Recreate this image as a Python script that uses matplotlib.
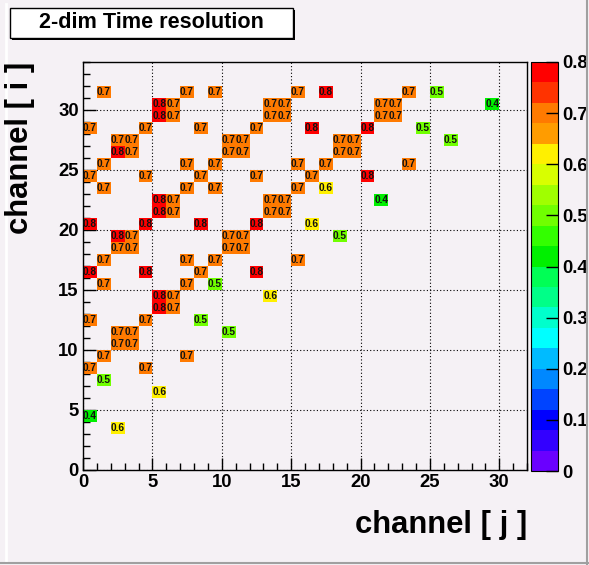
import numpy as np
import matplotlib
matplotlib.use("Agg")
import matplotlib.pyplot as plt
from matplotlib.colors import ListedColormap, BoundaryNorm
from matplotlib.patches import Rectangle
from matplotlib.lines import Line2D
from matplotlib.ticker import MultipleLocator, FuncFormatter

# Filled channel pairs: column j, row i and the time resolution of each pair
chan_j = [1, 7, 9, 15, 17, 23, 25,
          5, 6, 13, 14, 21, 22, 29,
          5, 6, 13, 14, 21, 22,
          0, 4, 8, 12, 16, 20, 24,
          2, 3, 10, 11, 18, 19, 26,
          2, 3, 10, 11, 18, 19,
          1, 7, 9, 15, 17, 23,
          0, 4, 8, 12, 16, 20,
          1, 7, 9, 15, 17,
          5, 6, 13, 14, 21,
          5, 6, 13, 14,
          0, 4, 8, 12, 16,
          2, 3, 10, 11, 18,
          2, 3, 10, 11,
          1, 7, 9, 15,
          0, 4, 8, 12,
          1, 7, 9,
          5, 6, 13,
          5, 6,
          0, 4, 8,
          2, 3, 10,
          2, 3,
          1, 7,
          0, 4,
          1,
          5,
          0,
          2]
chan_i = [31] * 7 + [30] * 7 + [29] * 6 + [28] * 7 + [27] * 7 + [26] * 6 + \
         [25] * 6 + [24] * 6 + [23] * 5 + [22] * 5 + [21] * 4 + [20] * 5 + \
         [19] * 5 + [18] * 4 + [17] * 4 + [16] * 4 + [15] * 3 + [14] * 3 + \
         [13] * 2 + [12] * 3 + [11] * 3 + [10] * 2 + [9] * 2 + [8] * 2 + \
         [7] + [6] + [4] + [3]
resolution = [0.7, 0.7, 0.7, 0.7, 0.8, 0.7, 0.5,
              0.8, 0.7, 0.7, 0.7, 0.7, 0.7, 0.4,
              0.8, 0.7, 0.7, 0.7, 0.7, 0.7,
              0.7, 0.7, 0.7, 0.7, 0.8, 0.8, 0.5,
              0.7, 0.7, 0.7, 0.7, 0.7, 0.7, 0.5,
              0.8, 0.7, 0.7, 0.7, 0.7, 0.7,
              0.7, 0.7, 0.7, 0.7, 0.7, 0.7,
              0.7, 0.7, 0.7, 0.7, 0.7, 0.8,
              0.7, 0.7, 0.7, 0.7, 0.6,
              0.8, 0.7, 0.7, 0.7, 0.4,
              0.8, 0.7, 0.7, 0.7,
              0.8, 0.8, 0.8, 0.8, 0.6,
              0.8, 0.7, 0.7, 0.7, 0.5,
              0.7, 0.7, 0.7, 0.7,
              0.7, 0.7, 0.7, 0.7,
              0.8, 0.8, 0.7, 0.8,
              0.7, 0.7, 0.5,
              0.8, 0.7, 0.6,
              0.8, 0.7,
              0.7, 0.7, 0.5,
              0.7, 0.7, 0.5,
              0.7, 0.7,
              0.7, 0.7,
              0.7, 0.7,
              0.5,
              0.6,
              0.4,
              0.6]

n_j, n_i = 32, 34
z_ticks = [0.0, 0.1, 0.2, 0.3, 0.4, 0.5, 0.6, 0.7, 0.8]

# 20-level rainbow palette, violet (low) to red (high)
palette = ["#6a00ff", "#3300ff", "#0000ff", "#0044ff", "#0088ff",
           "#00bbff", "#00ffff", "#00ffcc", "#00ff88", "#00ff55",
           "#00f000", "#33ff00", "#70ff00", "#a0ff00", "#d8ff00",
           "#fff000", "#ff9c00", "#ff7a00", "#ff3300", "#ff0000"]
cmap = ListedColormap(palette)
cmap.set_over(palette[-1])
levels = [round(0.04 * k, 2) for k in range(21)]
norm = BoundaryNorm(levels, cmap.N)

bg = "#f5f1f5"
W, H = 589, 565
fig = plt.figure(figsize=(W / 100, H / 100), dpi=100, facecolor=bg)
plt.rcParams["font.family"] = ["Liberation Sans", "DejaVu Sans"]


def fx(px):
    return px / W


def fy(py):
    return 1 - py / H


ax = fig.add_axes([fx(83), fy(470), fx(527) - fx(83), fy(62) - fy(470)])
ax.set_facecolor(bg)

grid = np.full((n_i, n_j), np.nan)
for j, i, v in zip(chan_j, chan_i, resolution):
    grid[i, j] = v
mesh = ax.pcolormesh(np.arange(n_j + 1), np.arange(n_i + 1),
                     np.ma.masked_invalid(grid), cmap=cmap, norm=norm,
                     zorder=1)

for j, i, v in zip(chan_j, chan_i, resolution):
    ax.text(j + 0.5, i + 0.5, f"{v:.1f}", ha="center", va="center",
            fontsize=7.3, fontweight="bold", color="#111111", zorder=3)

ax.set_xlim(0, n_j)
ax.set_ylim(0, n_i)
ax.xaxis.set_major_locator(MultipleLocator(5))
ax.xaxis.set_minor_locator(MultipleLocator(1))
ax.yaxis.set_major_locator(MultipleLocator(5))
ax.yaxis.set_minor_locator(MultipleLocator(1))
ax.set_axisbelow(True)
ax.grid(which="major", color="black", linestyle=(0, (1, 2)), linewidth=0.8)
ax.tick_params(which="both", direction="in", top=False, right=False,
               color="black", width=1)
ax.tick_params(which="major", length=9, labelsize=13.3, pad=3)
ax.tick_params(which="minor", length=4.7)
for lab in ax.get_xticklabels() + ax.get_yticklabels():
    lab.set_fontweight("bold")
for sp in ax.spines.values():
    sp.set_color("black")
    sp.set_linewidth(1)

# palette axis
cax = fig.add_axes([fx(531), fy(471), fx(558) - fx(531), fy(62) - fy(471)])
cb = fig.colorbar(mesh, cax=cax, ticks=z_ticks, extend="neither")
cb.outline.set_linewidth(0.8)
cb.ax.minorticks_off()
cb.ax.yaxis.set_major_formatter(
    FuncFormatter(lambda v, p: "0" if abs(v) < 1e-9 else f"{v:.1f}"))
cb.ax.tick_params(direction="in", length=9, width=1, color="black",
                  labelsize=13.3, pad=3)
for lab in cb.ax.get_yticklabels():
    lab.set_fontweight("bold")
cb.ax.set_ylim(0, 0.8)

# axis titles
fig.text(fx(527), fy(533), "channel [ j ]", ha="right", va="baseline",
         fontsize=22.3, fontweight="bold")
fig.text(fx(5), fy(62), "channel [ i ]", ha="left", va="top",
         rotation=90, fontsize=22.3, fontweight="bold")

# title box with shadow
fig.add_artist(Rectangle((fx(12), fy(40)), fx(283), 30 / H,
                         transform=fig.transFigure, facecolor="black",
                         edgecolor="none"))
fig.add_artist(Rectangle((fx(10), fy(38)), fx(283), 30 / H,
                         transform=fig.transFigure, facecolor="white",
                         edgecolor="black", linewidth=1))
fig.text(fx(151.5), fy(23), "2-dim Time resolution", ha="center",
         va="center", fontsize=15.6, fontweight="bold")

# canvas edges
fig.add_artist(Line2D([fx(6), fx(6)], [fy(4), fy(561)], color="white",
                      linewidth=2, transform=fig.transFigure))
fig.add_artist(Line2D([fx(587), fx(587)], [fy(0), fy(565)], color="#a0a0a0",
                      linewidth=1.5, transform=fig.transFigure))
fig.add_artist(Line2D([fx(0), fx(589)], [fy(563), fy(563)], color="#a0a0a0",
                      linewidth=1.5, transform=fig.transFigure))

fig.savefig("out.png", dpi=100, facecolor=bg)
